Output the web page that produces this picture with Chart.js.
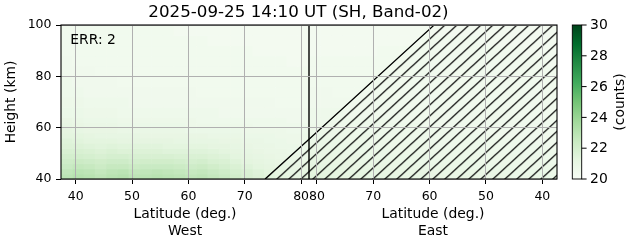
<!DOCTYPE html>
<html><head><meta charset="utf-8">
<script src="https://cdn.jsdelivr.net/npm/chart.js@4/dist/chart.umd.min.js"></script>
<style>html,body{margin:0;padding:0;background:#fff}canvas{display:block}</style>
</head><body>
<canvas id="c" width="631" height="243"></canvas>
<script>
const titleText = '2025-09-25 14:10 UT (SH, Band-02)';
const errText = 'ERR: 2';
const xTitle = 'Latitude (deg.)';
const westName = 'West';
const eastName = 'East';
const colorbarTitle = '(counts)';

const latMin = 37.4, latMax = 81.4;
const latBinEdges = [37.4,39.4,41.4,43.4,45.4,47.4,49.4,51.4,53.4,55.4,57.4,59.4,61.4,63.4,65.4,67.4,69.4,71.4,73.4,75.4,77.4,79.4,81.4];
const heightEdges = [40,42,44,46,48,50,52,54,56,58,60,62,64,68,72,76,80,84,88,92,96,100];
const latTicks = [40,50,60,70,80];
const heightTicks = [40,60,80,100];
const colorTicks = [20,22,24,26,28,30];
const colorMin = 20, colorMax = 30;

// counts, rows bottom -> top, columns latitude ascending
const westCounts = [
[22.9,23.1,23.0,22.8,23.0,23.1,22.8,22.9,23.0,22.9,22.8,22.7,22.8,22.6,22.4,22.1,21.8,21.6,21.4,21.3,21.2,21.2],
[22.7,22.9,22.8,22.6,22.8,22.9,22.6,22.7,22.8,22.7,22.6,22.5,22.6,22.4,22.2,21.9,21.7,21.5,21.3,21.2,21.1,21.1],
[22.4,22.6,22.5,22.3,22.5,22.5,22.3,22.4,22.4,22.4,22.3,22.2,22.3,22.1,21.9,21.7,21.5,21.3,21.2,21.1,21.0,21.0],
[22.2,22.3,22.2,22.1,22.2,22.2,22.0,22.1,22.1,22.1,22.0,21.9,22.0,21.8,21.7,21.5,21.3,21.2,21.1,21.0,20.9,20.9],
[22.0,22.0,21.9,21.8,21.9,21.9,21.8,21.8,21.8,21.8,21.7,21.7,21.7,21.6,21.5,21.3,21.2,21.1,21.0,20.9,20.9,20.8],
[21.8,21.8,21.7,21.6,21.7,21.6,21.6,21.6,21.6,21.5,21.5,21.5,21.5,21.4,21.3,21.2,21.1,21.0,20.9,20.9,20.8,20.8],
[21.6,21.6,21.5,21.4,21.5,21.4,21.4,21.4,21.4,21.3,21.3,21.3,21.3,21.2,21.2,21.1,21.0,20.9,20.9,20.8,20.8,20.7],
[21.5,21.4,21.3,21.3,21.3,21.2,21.2,21.2,21.2,21.2,21.1,21.1,21.1,21.1,21.0,21.0,20.9,20.9,20.8,20.8,20.7,20.7],
[21.3,21.3,21.2,21.1,21.1,21.1,21.1,21.0,21.0,21.0,21.0,21.0,21.0,20.9,20.9,20.9,20.8,20.8,20.8,20.7,20.7,20.7],
[21.2,21.1,21.0,21.0,21.0,20.9,20.9,20.9,20.9,20.9,20.9,20.8,20.8,20.8,20.8,20.8,20.7,20.7,20.7,20.7,20.6,20.6],
[21.1,21.0,20.9,20.9,20.9,20.8,20.8,20.8,20.8,20.8,20.8,20.7,20.7,20.7,20.7,20.7,20.7,20.6,20.6,20.6,20.6,20.6],
[21.0,20.9,20.8,20.8,20.8,20.7,20.7,20.7,20.7,20.7,20.7,20.7,20.6,20.6,20.6,20.6,20.6,20.6,20.6,20.6,20.5,20.5],
[20.8,20.8,20.7,20.7,20.7,20.6,20.6,20.6,20.6,20.6,20.6,20.6,20.6,20.6,20.5,20.5,20.5,20.5,20.5,20.5,20.5,20.5],
[20.7,20.7,20.6,20.6,20.6,20.6,20.5,20.5,20.5,20.5,20.5,20.5,20.5,20.5,20.5,20.5,20.5,20.5,20.5,20.4,20.4,20.4],
[20.6,20.6,20.5,20.5,20.5,20.5,20.5,20.5,20.5,20.5,20.5,20.5,20.4,20.4,20.4,20.4,20.4,20.4,20.4,20.4,20.4,20.4],
[20.6,20.5,20.5,20.5,20.5,20.4,20.4,20.4,20.4,20.4,20.4,20.4,20.4,20.4,20.4,20.4,20.4,20.4,20.4,20.4,20.4,20.4],
[20.5,20.5,20.5,20.4,20.4,20.4,20.4,20.4,20.4,20.4,20.4,20.4,20.4,20.4,20.4,20.4,20.4,20.4,20.4,20.4,20.4,20.4],
[20.5,20.4,20.4,20.4,20.4,20.4,20.4,20.4,20.4,20.4,20.4,20.4,20.4,20.4,20.4,20.4,20.4,20.4,20.4,20.4,20.3,20.3],
[20.4,20.4,20.4,20.4,20.4,20.4,20.4,20.4,20.4,20.4,20.4,20.4,20.4,20.4,20.4,20.4,20.4,20.3,20.3,20.3,20.3,20.3],
[20.4,20.4,20.4,20.4,20.4,20.4,20.4,20.4,20.4,20.4,20.4,20.4,20.4,20.3,20.3,20.3,20.3,20.3,20.3,20.3,20.3,20.3],
[20.4,20.4,20.4,20.4,20.4,20.4,20.4,20.4,20.4,20.4,20.3,20.3,20.3,20.3,20.3,20.3,20.3,20.3,20.3,20.3,20.3,20.3]
];
const eastCounts = [
[20.8,20.9,20.9,20.8,20.9,21.0,20.9,21.0,21.0,20.9,21.0,21.0,21.1,21.0,21.1,21.1,21.1,21.2,21.2,21.2,21.3,21.4],
[20.7,20.8,20.8,20.8,20.8,20.9,20.9,20.9,20.9,20.9,20.9,21.0,21.0,21.0,21.0,21.0,21.1,21.1,21.1,21.2,21.2,21.3],
[20.7,20.7,20.7,20.7,20.8,20.8,20.8,20.8,20.8,20.8,20.9,20.9,20.9,20.9,20.9,21.0,21.0,21.0,21.0,21.1,21.1,21.2],
[20.6,20.7,20.7,20.7,20.7,20.7,20.7,20.8,20.8,20.8,20.8,20.8,20.8,20.8,20.9,20.9,20.9,20.9,21.0,21.0,21.0,21.1],
[20.6,20.6,20.6,20.7,20.7,20.7,20.7,20.7,20.7,20.7,20.7,20.8,20.8,20.8,20.8,20.8,20.8,20.9,20.9,20.9,21.0,21.0],
[20.6,20.6,20.6,20.6,20.6,20.6,20.7,20.7,20.7,20.7,20.7,20.7,20.7,20.7,20.7,20.8,20.8,20.8,20.8,20.9,20.9,20.9],
[20.5,20.6,20.6,20.6,20.6,20.6,20.6,20.6,20.6,20.6,20.6,20.7,20.7,20.7,20.7,20.7,20.7,20.8,20.8,20.8,20.8,20.9],
[20.5,20.5,20.5,20.6,20.6,20.6,20.6,20.6,20.6,20.6,20.6,20.6,20.6,20.6,20.7,20.7,20.7,20.7,20.7,20.8,20.8,20.8],
[20.5,20.5,20.5,20.5,20.5,20.5,20.6,20.6,20.6,20.6,20.6,20.6,20.6,20.6,20.6,20.6,20.7,20.7,20.7,20.7,20.7,20.8],
[20.5,20.5,20.5,20.5,20.5,20.5,20.5,20.5,20.5,20.6,20.6,20.6,20.6,20.6,20.6,20.6,20.6,20.6,20.7,20.7,20.7,20.7],
[20.4,20.5,20.5,20.5,20.5,20.5,20.5,20.5,20.5,20.5,20.5,20.5,20.6,20.6,20.6,20.6,20.6,20.6,20.6,20.6,20.7,20.7],
[20.4,20.4,20.5,20.5,20.5,20.5,20.5,20.5,20.5,20.5,20.5,20.5,20.5,20.5,20.5,20.6,20.6,20.6,20.6,20.6,20.6,20.6],
[20.4,20.4,20.4,20.4,20.5,20.5,20.5,20.5,20.5,20.5,20.5,20.5,20.5,20.5,20.5,20.5,20.5,20.5,20.5,20.6,20.6,20.6],
[20.4,20.4,20.4,20.4,20.4,20.4,20.4,20.4,20.4,20.4,20.4,20.4,20.4,20.4,20.5,20.5,20.5,20.5,20.5,20.5,20.5,20.5],
[20.4,20.4,20.4,20.4,20.4,20.4,20.4,20.4,20.4,20.4,20.4,20.4,20.4,20.4,20.4,20.4,20.4,20.4,20.4,20.4,20.5,20.5],
[20.4,20.4,20.4,20.4,20.4,20.4,20.4,20.4,20.4,20.4,20.4,20.4,20.4,20.4,20.4,20.4,20.4,20.4,20.4,20.4,20.4,20.4],
[20.4,20.4,20.4,20.4,20.4,20.4,20.4,20.4,20.4,20.4,20.4,20.4,20.4,20.4,20.4,20.4,20.4,20.4,20.4,20.4,20.4,20.4],
[20.3,20.4,20.4,20.4,20.4,20.4,20.4,20.4,20.4,20.4,20.4,20.4,20.4,20.4,20.4,20.4,20.4,20.4,20.4,20.4,20.4,20.4],
[20.3,20.3,20.3,20.4,20.4,20.4,20.4,20.4,20.4,20.4,20.4,20.4,20.4,20.4,20.4,20.4,20.3,20.3,20.3,20.3,20.3,20.3],
[20.3,20.3,20.3,20.3,20.3,20.3,20.3,20.4,20.4,20.4,20.4,20.4,20.3,20.3,20.3,20.3,20.3,20.3,20.3,20.3,20.3,20.3],
[20.3,20.3,20.3,20.3,20.3,20.3,20.3,20.3,20.3,20.3,20.3,20.3,20.3,20.3,20.3,20.3,20.3,20.3,20.3,20.3,20.3,20.3]
];

// masked (hatched) region boundary
const hatchWestLat = [73.6, 81.4];
const hatchWestHeight = [40, 55.5];
const hatchEastLat = [81.4, 59.2, 37.4];
const hatchEastHeight = [55.5, 100, 100];

// Greens colormap stops
const greensStops = ['#f7fcf5','#e5f5e0','#c7e9c0','#a1d99b','#74c476','#41ab5d','#238b45','#006d2c','#00441b'];

const FONT = 'DejaVu Sans';
Chart.defaults.font.family = FONT;
Chart.defaults.color = '#000';

const westU = lat => lat - latMin;
const eastU = lat => (latMax - latMin) + (latMax - lat);
const uMax = 2 * (latMax - latMin);

const xTickValues = latTicks.map(westU).concat(latTicks.slice().reverse().map(eastU));
const xTickLabels = latTicks.map(String).concat(latTicks.slice().reverse().map(String));

function hexRgb(h){return [parseInt(h.slice(1,3),16),parseInt(h.slice(3,5),16),parseInt(h.slice(5,7),16)];}
const stopRgb = greensStops.map(hexRgb);
function colorFor(v){
  let t = (v - colorMin) / (colorMax - colorMin);
  t = Math.max(0, Math.min(1, t));
  const p = t * (stopRgb.length - 1);
  const i = Math.min(stopRgb.length - 2, Math.floor(p));
  const f = p - i;
  const a = stopRgb[i], b = stopRgb[i+1];
  return 'rgb(' + [0,1,2].map(k => Math.round(a[k] + (b[k]-a[k])*f)).join(',') + ')';
}

const HW = 12, HH = 11;
function makeHatch(){
  const c = document.createElement('canvas'); c.width = HW; c.height = HH;
  const g = c.getContext('2d');
  g.strokeStyle = '#000'; g.lineWidth = 1.25;
  for (const s of [-HW, 0, HW]) {
    g.beginPath(); g.moveTo(s - HW, 2*HH); g.lineTo(s + 2*HW, -HH); g.stroke();
  }
  const p = g.createPattern(c, 'repeat');
  // align one hatch line with the lower-left corner of the masked region (x=265, y=179)
  const off = (265 + 179 * HW / HH) % HW;
  p.setTransform(new DOMMatrix().translate(off, 0));
  return p;
}

const hatchPoints = hatchWestLat.map((l,i)=>({x: westU(l), y: hatchWestHeight[i]}))
  .concat(hatchEastLat.map((l,i)=>({x: eastU(l), y: hatchEastHeight[i]})));
const dividerPoints = [{x: westU(latMax), y: 40}, {x: westU(latMax), y: 100}];

const heatmapPlugin = {
  id: 'heatmap',
  beforeDatasetsDraw(chart){
    const {ctx, scales:{x, y}} = chart;
    ctx.save();
    const drawHalf = (grid, toU) => {
      for (let r = 0; r < grid.length; r++) {
        const y0 = y.getPixelForValue(heightEdges[r]);
        const y1 = y.getPixelForValue(heightEdges[r+1]);
        for (let c = 0; c < grid[r].length; c++) {
          const xa = x.getPixelForValue(toU(latBinEdges[c]));
          const xb = x.getPixelForValue(toU(latBinEdges[c+1]));
          const l = Math.min(xa, xb), rr = Math.max(xa, xb);
          ctx.fillStyle = colorFor(grid[r][c]);
          ctx.fillRect(l, y1, rr - l + 0.6, y0 - y1 + 0.6);
        }
      }
    };
    const a = chart.chartArea;
    ctx.beginPath(); ctx.rect(a.left, a.top, a.right - a.left, a.bottom - a.top); ctx.clip();
    drawHalf(westCounts, westU);
    drawHalf(eastCounts, eastU);
    ctx.restore();
  }
};

const decorPlugin = {
  id: 'decor',
  afterDraw(chart){
    const {ctx, chartArea: a} = chart;
    ctx.save();
    // frame
    ctx.strokeStyle = '#000'; ctx.lineWidth = 1.1;
    ctx.strokeRect(a.left, a.top, a.right - a.left, a.bottom - a.top);
    ctx.fillStyle = '#000';
    // title
    ctx.font = '16.7px "' + FONT + '"';
    ctx.textAlign = 'center'; ctx.textBaseline = 'alphabetic';
    ctx.fillText(titleText, 298.5, 17.4);
    // ERR text
    ctx.font = '13.9px "' + FONT + '"';
    ctx.textAlign = 'left';
    ctx.fillText(errText, 70.3, 43.5);
    // x titles
    const xs = chart.scales.x;
    const mid = xs.getPixelForValue(latMax - latMin);
    ctx.textAlign = 'center';
    const wc = (a.left + mid) / 2, ec = (mid + a.right) / 2;
    ctx.fillText(xTitle, wc, 217.5); ctx.fillText(westName, wc, 234.5);
    ctx.fillText(xTitle, ec, 217.5); ctx.fillText(eastName, ec, 234.5);
    // colorbar
    const cbL = 572.3, cbR = 581.7, top = a.top, bot = a.bottom;
    const grad = ctx.createLinearGradient(0, bot, 0, top);
    greensStops.forEach((c,i)=>grad.addColorStop(i/(greensStops.length-1), c));
    ctx.fillStyle = grad;
    ctx.fillRect(cbL, top, cbR - cbL, bot - top);
    ctx.strokeStyle = '#000'; ctx.lineWidth = 0.9;
    ctx.strokeRect(cbL, top, cbR - cbL, bot - top);
    ctx.fillStyle = '#000';
    ctx.textAlign = 'left'; ctx.textBaseline = 'middle';
    ctx.lineWidth = 1;
    colorTicks.forEach(v => {
      const yy = bot - (v - colorMin) / (colorMax - colorMin) * (bot - top);
      ctx.beginPath(); ctx.moveTo(cbR, yy); ctx.lineTo(cbR + 4.9, yy); ctx.stroke();
      ctx.fillText(String(v), cbR + 8.4, yy + 0.5);
    });
    ctx.save();
    ctx.translate(620.5, (top + bot) / 2);
    ctx.rotate(-Math.PI / 2);
    ctx.textAlign = 'center'; ctx.textBaseline = 'middle';
    ctx.fillText(colorbarTitle, 0, 0);
    ctx.restore();
    ctx.restore();
  }
};

new Chart(document.getElementById('c'), {
  type: 'scatter',
  data: {
    datasets: [
      { data: hatchPoints, showLine: true, fill: 'start', backgroundColor: makeHatch(),
        borderWidth: 1.2, borderColor: '#000', pointRadius: 0, tension: 0 },
      { data: dividerPoints, showLine: true, fill: false, borderColor: '#000', borderWidth: 1.4,
        pointRadius: 0 }
    ]
  },
  options: {
    responsive: false, animation: false, devicePixelRatio: 1,
    layout: { padding: { left: 0, right: 74, top: 25, bottom: 0 } },
    plugins: {
      legend: { display: false }, tooltip: { enabled: false }, title: { display: false }
    },
    scales: {
      x: {
        type: 'linear', min: 0, max: uMax,
        afterFit: s => { s.height = 64; },
        afterBuildTicks: s => { s.ticks = xTickValues.map(v => ({ value: v })); },
        ticks: { autoSkip: false, maxRotation: 0, minRotation: 0, padding: 4.8,
          font: { size: 12.5 }, color: '#000', callback: (v, i) => xTickLabels[i] },
        grid: { color: '#b0b0b0', lineWidth: 1, tickColor: '#000', tickLength: 5, tickWidth: 1, z: 1 },
        border: { display: false }
      },
      y: {
        type: 'linear', min: 40, max: 100,
        afterFit: s => { s.width = 61; },
        afterBuildTicks: s => { s.ticks = heightTicks.map(v => ({ value: v })); },
        ticks: { padding: 4.5, font: { size: 12.5 }, color: '#000' },
        grid: { color: '#b0b0b0', lineWidth: 1, tickColor: '#000', tickLength: 5, tickWidth: 1, z: 1 },
        border: { display: false },
        title: { display: true, text: 'Height (km)', color: '#000', font: { size: 13.9 }, padding: { top: 2.7, bottom: 0 } }
      }
    }
  },
  plugins: [heatmapPlugin, decorPlugin]
});
</script>
</body></html>
